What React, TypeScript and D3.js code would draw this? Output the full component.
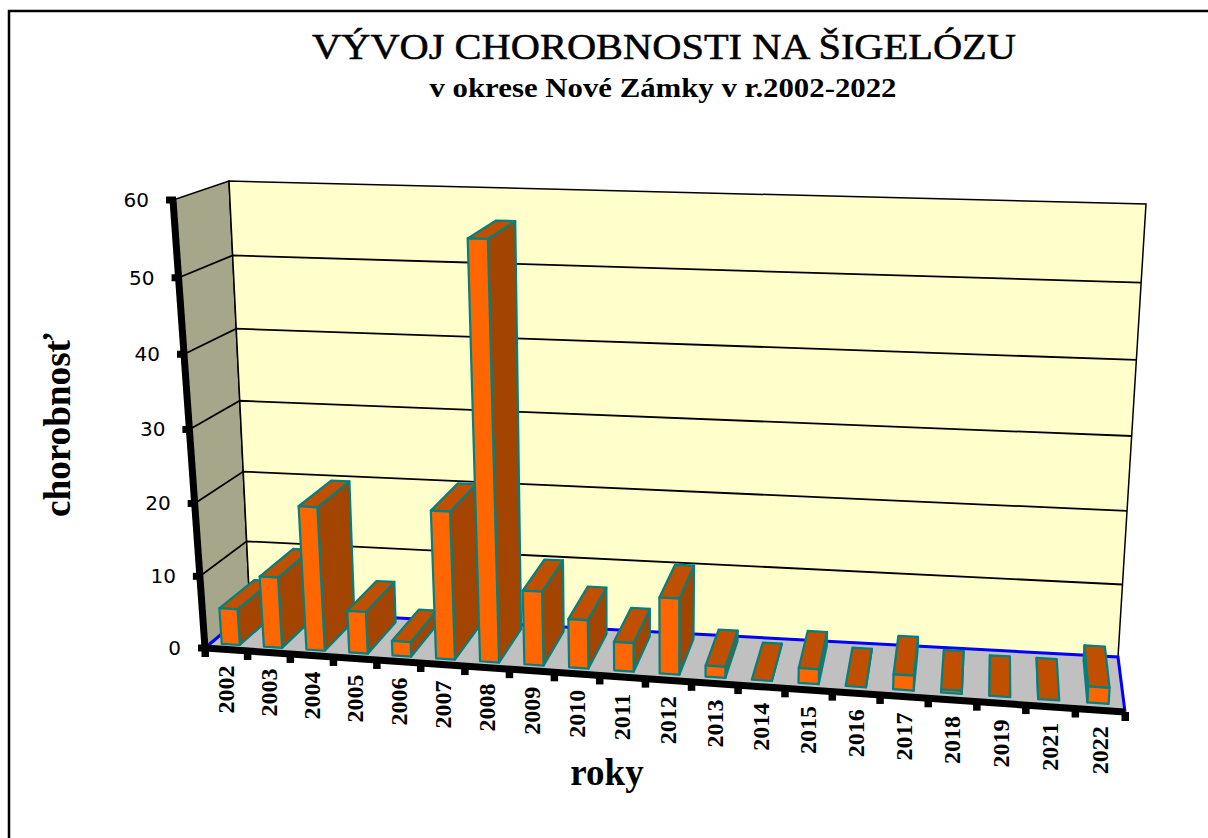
import React from "react";
import * as d3 from "d3";

const years = ["2002","2003","2004","2005","2006","2007","2008","2009","2010","2011","2012","2013","2014","2015","2016","2017","2018","2019","2021","2022"];
const values = [5,9.8,19.8,5.8,2,20.2,56,10.1,6.6,3.9,10.3,1.5,0,2,0,2,0.4,0,0,2.1];
const yTicks = [0,10,20,30,40,50,60];

type P = [number, number];
// corners of the projected box: front/back, left/right, floor/top
const FLB: P = [205,648], FLT: P = [173,200], BLB: P = [250,610], BLT: P = [229,181];
const FRB: P = [1125,712], FRT: P = [1153,232], BRB: P = [1118,657], BRT: P = [1146,204];

const lerp = (a: P, b: P, t: number): P => [a[0]+(b[0]-a[0])*t, a[1]+(b[1]-a[1])*t];
const band = d3.scaleBand<string>().domain(years).range([0,1]).paddingInner(0).paddingOuter(0);
const vScale = d3.scaleLinear().domain([0,60]).range([0,1]);
const warp = (t: number, r: number) => t/(t+(1-t)*r);

function proj(t: number, d: number, v: number): P {
  const s = warp(t,1.09), h = warp(vScale(v),1.05);
  const lf = lerp(FLB,FLT,h), lb = lerp(BLB,BLT,h), rf = lerp(FRB,FRT,h), rb = lerp(BRB,BRT,h);
  return lerp(lerp(lf,lb,d), lerp(rf,rb,d), s);
}
const pth = (pts: P[]) => d3.line()(pts)! + "Z";

const FRONT = "#FF6600", SIDE = "#A34400", TOP = "#C05000", EDGE = "#008080";
const D0 = 0.13, D1 = 0.9, INSET_L = 0.26, INSET_R = 0.31;

export default function App() {
  const W = band.bandwidth();
  const serif = "'Liberation Serif', serif";
  return (
    <svg width={1208} height={838} style={{position:"absolute",left:0,top:0,background:"#fff"}}>
      <rect x={9} y={11} width={1300} height={1000} fill="#fff" stroke="#000" strokeWidth={2.5}/>
      <text x={664} y={59} textAnchor="middle" fontFamily={serif} fontSize={36} stroke="#000" strokeWidth={0.5} textLength={704} lengthAdjust="spacingAndGlyphs">VÝVOJ CHOROBNOSTI NA ŠIGELÓZU</text>
      <text x={663} y={97} textAnchor="middle" fontFamily={serif} fontSize={27} fontWeight="bold" textLength={467} lengthAdjust="spacingAndGlyphs">v okrese Nové Zámky v r.2002-2022</text>

      {/* walls and floor */}
      <path d={pth([proj(0,0,0),proj(0,1,0),proj(1,1,0),proj(1,0,0)])} fill="#C0C0C0"/>
      <path d={pth([proj(0,0,0),proj(0,0,60),proj(0,1,60),proj(0,1,0)])} fill="#A6A68A" stroke="#000" strokeWidth={1.5}/>
      <path d={pth([proj(0,1,0),proj(0,1,60),proj(1,1,60),proj(1,1,0)])} fill="#FFFFCC" stroke="#000" strokeWidth={1.5}/>
      {yTicks.slice(1,-1).map(v => (
        <path key={v} d={d3.line()([proj(0,0,v),proj(0,1,v),proj(1,1,v)])!} fill="none" stroke="#000" strokeWidth={1.8}/>
      ))}
      <path d={d3.line()([proj(0,0,0),proj(0,1,0),proj(1,1,0),proj(1,0,0)])!} fill="none" stroke="#0000FF" strokeWidth={3}/>

      {/* bars */}
      {years.map((y,i) => {
        const t0 = band(y)! + W*INSET_L, t1 = band(y)! + W*(1-INSET_R), v = values[i];
        const showRight = proj(t1,D1,0)[0] > proj(t1,D0,0)[0];
        const st = showRight ? t1 : t0;
        return (
          <g key={y} stroke={EDGE} strokeWidth={2.2} strokeLinejoin="round">
            <path d={pth([proj(st,D0,0),proj(st,D1,0),proj(st,D1,v),proj(st,D0,v)])} fill={SIDE}/>
            <path d={pth([proj(t0,D0,v),proj(t0,D1,v),proj(t1,D1,v),proj(t1,D0,v)])} fill={TOP}/>
            {v > 0 && <path d={pth([proj(t0,D0,0),proj(t1,D0,0),proj(t1,D0,v),proj(t0,D0,v)])} fill={FRONT}/>}
          </g>
        );
      })}

      {/* axes */}
      <path d={d3.line()([proj(0,0,0),proj(0,0,60)])!} stroke="#000" strokeWidth={7} fill="none"/>
      <path d={d3.line()([proj(0,0,0),proj(1,0,0)])!} stroke="#000" strokeWidth={7} fill="none"/>
      {yTicks.map(v => {
        const p = proj(0,0,v);
        return (
          <g key={v}>
            <rect x={p[0]-7} y={p[1]-3.5} width={10} height={7} fill="#000"/>
            <text x={p[0]-24} y={p[1]+7} textAnchor="end" fontFamily="'DejaVu Sans', sans-serif" fontSize={20}>{v}</text>
          </g>
        );
      })}
      {d3.range(years.length+1).map(i => {
        const t = i/years.length, p = proj(t,0,0);
        return <rect key={i} x={p[0]-3.5} y={p[1]} width={7.5} height={9} fill="#000"/>;
      })}
      {years.map(y => {
        const p = proj(band(y)!+W/2,0,0);
        return <text key={y} transform={`translate(${p[0]+8},${p[1]+40}) rotate(-90)`} textAnchor="middle" fontFamily={serif} fontWeight="bold" fontSize={24}>{y}</text>;
      })}
      <text transform="translate(70,425) rotate(-90)" textAnchor="middle" fontFamily={serif} fontWeight="bold" fontSize={38} textLength={184} lengthAdjust="spacingAndGlyphs">chorobnosť</text>
      <text x={607} y={785} textAnchor="middle" fontFamily={serif} fontWeight="bold" fontSize={37}>roky</text>
    </svg>
  );
}
